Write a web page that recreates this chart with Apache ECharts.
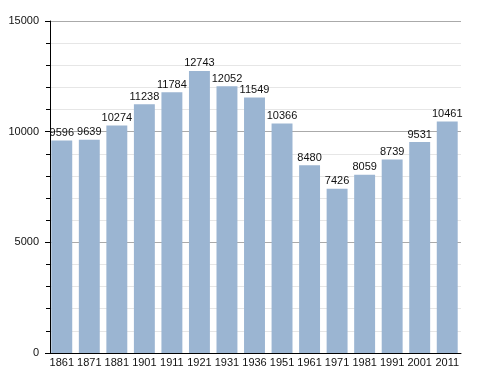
<!DOCTYPE html>
<html><head><meta charset="utf-8">
<script src="https://cdn.jsdelivr.net/npm/echarts@6/dist/echarts.min.js"></script>
<style>html,body{margin:0;padding:0;background:#fff}#c{width:488px;height:373px}</style>
</head><body><div id="c"></div>
<script>
const years = ['1861','1871','1881','1901','1911','1921','1931','1936','1951','1961','1971','1981','1991','2001','2011'];
const population = [9596,9639,10274,11238,11784,12743,12052,11549,10366,8480,7426,8059,8739,9531,10461];
const yTicks = [0,5000,10000,15000];

const chart = echarts.init(document.getElementById('c'), null, {renderer:'canvas'});
chart.setOption({
  animation:false,
  grid:{left:48,right:27,top:21,bottom:20,containLabel:false},
  xAxis:{
    type:'category', data:years,
    axisLine:{lineStyle:{color:'#000',width:1}},
    axisTick:{show:false},
    axisLabel:{color:'#111',fontFamily:'Liberation Sans, Arial, sans-serif',fontSize:11,margin:4,interval:0}
  },
  yAxis:{
    type:'value', min:yTicks[0], max:yTicks[yTicks.length-1], interval:5000, offset:-2,
    axisLine:{show:true,lineStyle:{color:'#000',width:1}},
    axisTick:{show:true,length:5,lineStyle:{color:'#000'}},
    minorTick:{show:true,splitNumber:5,length:4,lineStyle:{color:'#000'}},
    axisLabel:{color:'#111',fontFamily:'Liberation Sans, Arial, sans-serif',fontSize:11,margin:11,formatter:function(v){return String(v);}},
    splitLine:{show:true,lineStyle:{color:'#aaaaaa',width:1}},
    minorSplitLine:{show:true,lineStyle:{color:'#e6e6e6',width:1}}
  },
  series:[{
    type:'bar', data:population, barCategoryGap:'24%',
    itemStyle:{color:'#9bb5d2'},
    label:{show:true,position:'top',distance:2,color:'#111',fontFamily:'Liberation Sans, Arial, sans-serif',fontSize:11}
  }]
});
</script></body></html>
